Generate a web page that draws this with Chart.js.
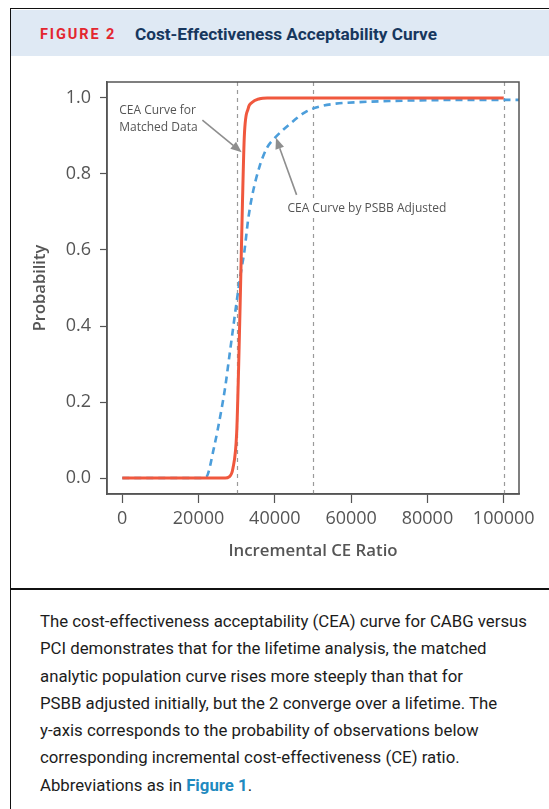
<!DOCTYPE html>
<html>
<head>
<meta charset="utf-8">
<script src="https://cdn.jsdelivr.net/npm/chart.js@4.4.0/dist/chart.umd.min.js"></script>
<style>
  html, body { margin: 0; padding: 0; background: #fff; width: 549px; height: 809px; overflow: hidden; }
  .frame { position: absolute; left: 10px; top: 8px; width: 560px; height: 820px;
           border-left: 1.5px solid #111; border-top: 1.5px solid #111; }
  .head { position: absolute; left: 11px; top: 9.5px; width: 538px; height: 46px; background: #dfe9f4; }
  .head span { position: absolute; white-space: nowrap; font-family: Roboto, sans-serif; font-weight: 700; }
  .fig { left: 29px; top: 16px; color: #e3262f; font-size: 14.5px; letter-spacing: 1.9px; }
  .ttl { left: 124px; top: 14px; color: #17375e; font-size: 17.2px; }
  .rule { position: absolute; left: 10px; top: 588px; width: 540px; height: 1.5px; background: #111; }
  #wrap { position: absolute; left: 0; top: 56px; width: 549px; height: 532px; }
  .cap { position: absolute; left: 40px; top: 608px; font-family: Roboto, sans-serif; font-size: 16.8px;
         line-height: 27.3px; color: #1c1c1c; white-space: nowrap; }
  .cap b { color: #1f8ac0; }
</style>
</head>
<body>
<div class="frame"></div>
<div class="head"><span class="fig">FIGURE 2</span><span class="ttl">Cost-Effectiveness Acceptability Curve</span></div>
<div id="wrap"><canvas id="cea"></canvas></div>
<div class="rule"></div>
<div class="cap">
The cost-effectiveness acceptability (CEA) curve for CABG versus<br>
PCI demonstrates that for the lifetime analysis, the matched<br>
analytic population curve rises more steeply than that for<br>
PSBB adjusted initially, but the 2 converge over a lifetime. The<br>
y-axis corresponds to the probability of observations below<br>
corresponding incremental cost-effectiveness (CE) ratio.<br>
Abbreviations as in <b>Figure 1</b>.
</div>
<script>
const ceRatio = [0, 20000, 22000, 24000, 26000, 27000, 28000, 29000, 30000, 30500, 31000, 31500,
  32000, 33000, 34000, 36000, 38000, 40000, 44000, 48000, 52000, 56000, 62000, 70000, 80000,
  90000, 100000, 104000];
const matchedProb = [0, 0, 0, 0, 0, 0, 0.003, 0.025, 0.12, 0.29, 0.5, 0.72,
  0.9, 0.972, 0.988, 0.998, 1, 1, 1, 1, 1, 1, 1, 1, 1,
  1, 1, null];
const psbbProb = [0, 0, 0.003, 0.078, 0.18, 0.24, 0.315, 0.39, 0.465, 0.5, 0.535, 0.565,
  0.595, 0.68, 0.74, 0.82, 0.87, 0.895, 0.932, 0.963, 0.978, 0.985, 0.989, 0.992, 0.994,
  0.995, 0.995, 0.995];
const xTicks = [0, 20000, 40000, 60000, 80000, 100000];
const yTicks = [0, 0.2, 0.4, 0.6, 0.8, 1.0];
const refLines = [30000, 50000, 100000];

const notes = [
  { lines: ["CEA Curve for", "Matched Data"], at: [-800, 0.968], from: [21000, 0.942], to: [31300, 0.857], bg: false },
  { lines: ["CEA Curve by PSBB Adjusted"], at: [43300, 0.71], from: [45700, 0.745], to: [40300, 0.895], bg: true }
];

const AXIS = '#555';
const FONT = "'Open Sans', sans-serif";

const extras = {
  id: 'extras',
  beforeDatasetsDraw(chart) {
    const { ctx, chartArea: a, scales: { x } } = chart;
    ctx.save();
    ctx.strokeStyle = '#9a9a9a';
    ctx.lineWidth = 1.2;
    ctx.setLineDash([4, 4]);
    refLines.forEach(v => {
      const px = Math.round(x.getPixelForValue(v)) + 0.5;
      ctx.beginPath(); ctx.moveTo(px, a.top); ctx.lineTo(px, a.bottom); ctx.stroke();
    });
    ctx.restore();
  },
  afterDatasetsDraw(chart) {
    const { ctx, chartArea: a, scales: { x, y } } = chart;
    ctx.save();
    ctx.strokeStyle = AXIS;
    ctx.lineWidth = 1.5;
    ctx.strokeRect(a.left, a.top, a.right - a.left, a.bottom - a.top);
    ctx.font = "12px " + FONT;
    ctx.textBaseline = 'middle';
    notes.forEach(n => {
      const tx = x.getPixelForValue(n.at[0]);
      const ty = y.getPixelForValue(n.at[1]);
      n.lines.forEach((t, i) => {
        const yy = ty + i * 17;
        if (n.bg) {
          const w = ctx.measureText(t).width;
          ctx.fillStyle = '#fff';
          ctx.fillRect(tx - 1, yy - 8, w + 2, 16);
        }
        ctx.fillStyle = '#555';
        ctx.fillText(t, tx, yy);
      });
      const x0 = x.getPixelForValue(n.from[0]), y0 = y.getPixelForValue(n.from[1]);
      const x1 = x.getPixelForValue(n.to[0]), y1 = y.getPixelForValue(n.to[1]);
      const ang = Math.atan2(y1 - y0, x1 - x0);
      const hl = 11, hw = 4.5;
      const bx = x1 - hl * Math.cos(ang), by = y1 - hl * Math.sin(ang);
      ctx.strokeStyle = '#8e8e8e';
      ctx.fillStyle = '#8e8e8e';
      ctx.lineWidth = 1.6;
      ctx.beginPath(); ctx.moveTo(x0, y0); ctx.lineTo(bx, by); ctx.stroke();
      ctx.beginPath();
      ctx.moveTo(x1, y1);
      ctx.lineTo(bx + hw * Math.sin(ang), by - hw * Math.cos(ang));
      ctx.lineTo(bx - hw * Math.sin(ang), by + hw * Math.cos(ang));
      ctx.closePath(); ctx.fill();
    });
    ctx.restore();
  }
};

new Chart(document.getElementById('cea'), {
  type: 'line',
  data: {
    datasets: [
      {
        data: ceRatio.map((v, i) => ({ x: v, y: matchedProb[i] })),
        borderColor: '#f0583e',
        borderWidth: 3,
        pointRadius: 0,
        cubicInterpolationMode: 'monotone',
        spanGaps: false
      },
      {
        data: ceRatio.map((v, i) => ({ x: v, y: psbbProb[i] })),
        borderColor: '#4c9edb',
        borderWidth: 2.6,
        borderDash: [7, 5],
        pointRadius: 0,
        cubicInterpolationMode: 'monotone'
      }
    ]
  },
  plugins: [extras],
  options: {
    responsive: true,
    maintainAspectRatio: false,
    animation: false,
    layout: { padding: { left: 20, right: 30, top: 26, bottom: 0 } },
    plugins: {
      legend: { display: false },
      tooltip: { enabled: false }
    },
    scales: {
      x: {
        type: 'linear',
        min: -4000,
        max: 104000,
        afterBuildTicks: s => { s.ticks = xTicks.map(v => ({ value: v })); },
        afterFit: s => { s.height = 94; },
        grid: { drawOnChartArea: false, drawTicks: true, tickLength: 9, tickColor: AXIS, tickWidth: 1.2 },
        border: { display: true, color: AXIS, width: 1.5 },
        ticks: { color: '#555', font: { family: FONT, size: 18 }, padding: 5, maxRotation: 0,
                 callback: v => String(v) },
        title: { display: true, text: 'Incremental CE Ratio', color: '#555',
                 font: { family: FONT, size: 16.8, weight: '600' }, padding: { top: 27, bottom: 27 } }
      },
      y: {
        min: -0.042,
        max: 1.042,
        afterBuildTicks: s => { s.ticks = yTicks.map(v => ({ value: v })); },
        afterFit: s => { s.width = 87; },
        grid: { drawOnChartArea: false, drawTicks: true, tickLength: 7, tickColor: AXIS, tickWidth: 1.2 },
        border: { display: true, color: AXIS, width: 1.5 },
        ticks: { color: '#555', font: { family: FONT, size: 18 }, padding: 9,
                 callback: v => v.toFixed(1) },
        title: { display: true, text: 'Probability', color: '#555',
                 font: { family: FONT, size: 16.5, weight: '600' }, padding: { top: 10, bottom: 10 } }
      }
    }
  }
});
</script>
</body>
</html>
